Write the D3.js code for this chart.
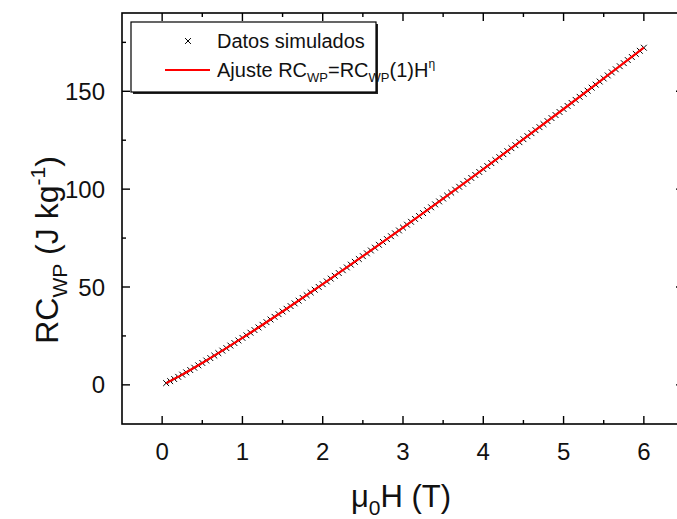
<!DOCTYPE html>
<html>
<head>
<meta charset="utf-8">
<script src="https://cdn.jsdelivr.net/npm/d3@7/dist/d3.min.js"></script>
<style>
  html, body { margin: 0; padding: 0; background: #fff; }
  svg { display: block; font-family: Arial, "Liberation Sans", sans-serif; }
</style>
</head>
<body>
<svg id="chart" width="677" height="519"></svg>
<script>
// Simulated refrigerant capacity vs applied field
const fieldH = [
  0.05, 0.10, 0.15, 0.20, 0.25, 0.30, 0.35, 0.40, 0.45, 0.50,
  0.55, 0.60, 0.65, 0.70, 0.75, 0.80, 0.85, 0.90, 0.95, 1.00,
  1.05, 1.10, 1.15, 1.20, 1.25, 1.30, 1.35, 1.40, 1.45, 1.50,
  1.55, 1.60, 1.65, 1.70, 1.75, 1.80, 1.85, 1.90, 1.95, 2.00,
  2.05, 2.10, 2.15, 2.20, 2.25, 2.30, 2.35, 2.40, 2.45, 2.50,
  2.55, 2.60, 2.65, 2.70, 2.75, 2.80, 2.85, 2.90, 2.95, 3.00,
  3.05, 3.10, 3.15, 3.20, 3.25, 3.30, 3.35, 3.40, 3.45, 3.50,
  3.55, 3.60, 3.65, 3.70, 3.75, 3.80, 3.85, 3.90, 3.95, 4.00,
  4.05, 4.10, 4.15, 4.20, 4.25, 4.30, 4.35, 4.40, 4.45, 4.50,
  4.55, 4.60, 4.65, 4.70, 4.75, 4.80, 4.85, 4.90, 4.95, 5.00,
  5.05, 5.10, 5.15, 5.20, 5.25, 5.30, 5.35, 5.40, 5.45, 5.50,
  5.55, 5.60, 5.65, 5.70, 5.75, 5.80, 5.85, 5.90, 5.95, 6.00
];
const rcSimulated = [
  0.89, 1.91, 2.98, 4.09, 5.22, 6.38, 7.56, 8.76, 9.97, 11.20,
  12.43, 13.68, 14.94, 16.21, 17.49, 18.78, 20.07, 21.37, 22.68, 24.00,
  25.32, 26.65, 27.99, 29.33, 30.68, 32.03, 33.39, 34.75, 36.12, 37.49,
  38.87, 40.25, 41.63, 43.02, 44.42, 45.82, 47.22, 48.62, 50.03, 51.45,
  52.86, 54.28, 55.71, 57.13, 58.56, 60.00, 61.43, 62.87, 64.31, 65.76,
  67.21, 68.66, 70.11, 71.57, 73.03, 74.49, 75.95, 77.42, 78.89, 80.36,
  81.84, 83.31, 84.79, 86.27, 87.76, 89.24, 90.73, 92.22, 93.72, 95.21,
  96.71, 98.21, 99.71, 101.21, 102.72, 104.23, 105.74, 107.25, 108.76, 110.28,
  111.79, 113.31, 114.83, 116.36, 117.88, 119.41, 120.94, 122.46, 124.00, 125.53,
  127.07, 128.60, 130.14, 131.68, 133.22, 134.77, 136.31, 137.86, 139.41, 140.95,
  142.51, 144.06, 145.61, 147.17, 148.73, 150.29, 151.85, 153.41, 154.97, 156.54,
  158.10, 159.67, 161.24, 162.81, 164.38, 165.95, 167.53, 169.10, 170.68, 172.26
];

// Fitted power law RC_WP = RC_WP(1) H^n, sampled along the field range
const fitH  = [0.05, 0.25, 0.50, 0.75, 1.00, 1.50, 2.00, 2.50, 3.00, 3.50, 4.00, 4.50, 5.00, 5.50, 6.00];
const fitRC = [0.89, 5.22, 11.20, 17.49, 24.00, 37.49, 51.45, 65.76, 80.36, 95.21, 110.28, 125.53, 140.95, 156.54, 172.26];

const xTicks = [0, 1, 2, 3, 4, 5, 6];
const xMinorTicks = [0.5, 1.5, 2.5, 3.5, 4.5, 5.5];
const yTicks = [0, 50, 100, 150];
const yMinorTicks = [25, 75, 125, 175];

const svg = d3.select("#chart");
const plotLeft = 122, plotRight = 684, plotTop = 13, plotBottom = 424;

const x = d3.scaleLinear().domain([-0.5, 6.5]).range([plotLeft, plotRight]);
const y = d3.scaleLinear().domain([-20, 190]).range([plotBottom, plotTop]);

const axisColor = "#000";
const majorLen = 8, minorLen = 4;

// Frame lines
svg.append("rect")
  .attr("x", plotLeft).attr("y", plotTop)
  .attr("width", plotRight - plotLeft).attr("height", plotBottom - plotTop)
  .attr("fill", "none").attr("stroke", axisColor).attr("stroke-width", 1.6);

// Ticks on all four sides, pointing inward
const tickG = svg.append("g").attr("stroke", axisColor).attr("stroke-width", 1.4);
function vTicks(vals, len) {
  vals.forEach(v => {
    tickG.append("line").attr("x1", x(v)).attr("x2", x(v)).attr("y1", plotBottom).attr("y2", plotBottom - len);
    tickG.append("line").attr("x1", x(v)).attr("x2", x(v)).attr("y1", plotTop).attr("y2", plotTop + len);
  });
}
function hTicks(vals, len) {
  vals.forEach(v => {
    tickG.append("line").attr("y1", y(v)).attr("y2", y(v)).attr("x1", plotLeft).attr("x2", plotLeft + len);
    tickG.append("line").attr("y1", y(v)).attr("y2", y(v)).attr("x1", plotRight).attr("x2", plotRight - len);
  });
}
vTicks(xTicks, majorLen); vTicks(xMinorTicks, minorLen);
hTicks(yTicks, majorLen); hTicks(yMinorTicks, minorLen);

// Tick labels
svg.append("g").selectAll("text").data(xTicks).join("text")
  .attr("x", d => x(d)).attr("y", 460)
  .attr("text-anchor", "middle").attr("font-size", 24).attr("fill", "#111")
  .text(d => d);
svg.append("g").selectAll("text").data(yTicks).join("text")
  .attr("x", 105).attr("y", d => y(d) + 8.5)
  .attr("text-anchor", "end").attr("font-size", 24).attr("fill", "#111")
  .text(d => d);

// Axis titles
const xt = svg.append("text").attr("x", 401).attr("y", 507)
  .attr("text-anchor", "middle").attr("font-size", 31).attr("fill", "#111");
xt.append("tspan").text("μ");
xt.append("tspan").attr("font-size", 21).attr("dy", 8).text("0");
xt.append("tspan").attr("dy", -8).text("H (T)");

const yt = svg.append("text")
  .attr("transform", "translate(58,250) rotate(-90)")
  .attr("text-anchor", "middle").attr("font-size", 32).attr("fill", "#111");
yt.append("tspan").text("RC");
yt.append("tspan").attr("font-size", 21).attr("dy", 9).text("WP");
yt.append("tspan").attr("dy", -9).text(" (J kg");
yt.append("tspan").attr("font-size", 21).attr("dy", -13).text("-1");
yt.append("tspan").attr("dy", 13).text(")");

// Simulated data as crosses
const cross = d3.symbol().type(d3.symbolX).size(24);
svg.append("g").selectAll("path").data(rcSimulated).join("path")
  .attr("transform", (d, i) => `translate(${x(fieldH[i])},${y(d)})`)
  .attr("d", cross)
  .attr("fill", "none").attr("stroke", "#000").attr("stroke-width", 1);

// Fit line, drawn over the simulated points
const line = d3.line().x((d, i) => x(fitH[i])).y(d => y(d)).curve(d3.curveMonotoneX);
svg.append("path").datum(fitRC).attr("d", line)
  .attr("fill", "none").attr("stroke", "#ff0000").attr("stroke-width", 2.2);

// Legend
const lg = svg.append("g");
lg.append("rect").attr("x", 133).attr("y", 24).attr("width", 245).attr("height", 70).attr("fill", "#222");
lg.append("rect").attr("x", 131).attr("y", 22).attr("width", 245).attr("height", 70)
  .attr("fill", "#fff").attr("stroke", "#000").attr("stroke-width", 1.2);
lg.append("path").attr("transform", "translate(188,41)").attr("d", cross)
  .attr("fill", "none").attr("stroke", "#000").attr("stroke-width", 1);
lg.append("text").attr("x", 217).attr("y", 48).attr("font-size", 20).attr("fill", "#111").text("Datos simulados");
lg.append("line").attr("x1", 165).attr("x2", 210).attr("y1", 70).attr("y2", 70)
  .attr("stroke", "#ff0000").attr("stroke-width", 2);
const lt = lg.append("text").attr("x", 217).attr("y", 77).attr("font-size", 20).attr("fill", "#111");
lt.append("tspan").text("Ajuste RC");
lt.append("tspan").attr("font-size", 13).attr("dy", 5).text("WP");
lt.append("tspan").attr("dy", -5).text("=RC");
lt.append("tspan").attr("font-size", 13).attr("dy", 5).text("WP");
lt.append("tspan").attr("dy", -5).text("(1)H");
lt.append("tspan").attr("font-size", 12).attr("dy", -9).text("η");
</script>
</body>
</html>
